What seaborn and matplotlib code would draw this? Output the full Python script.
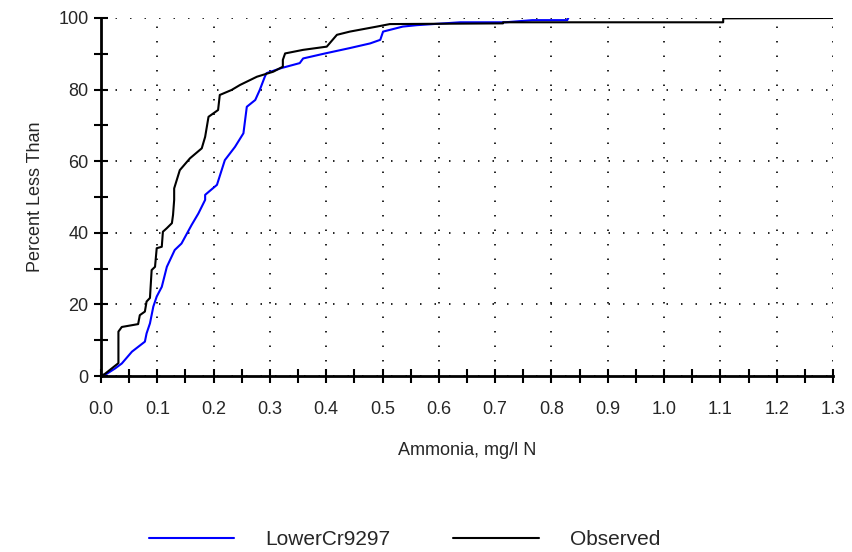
import matplotlib
matplotlib.use("Agg")
import matplotlib.pyplot as plt
import seaborn as sns
import pandas as pd
from matplotlib.ticker import MultipleLocator

# Observed CDF (Ammonia, mg/l N vs percent less than)
obs_x = [0.0, 0.007, 0.031, 0.031, 0.037, 0.066, 0.069, 0.078, 0.081, 0.087, 0.090,
         0.096, 0.099, 0.108, 0.110, 0.117, 0.126, 0.128, 0.130, 0.130, 0.140,
         0.158, 0.179, 0.185, 0.191, 0.208, 0.211, 0.232, 0.247, 0.277, 0.306, 0.323,
         0.323, 0.327, 0.359, 0.401, 0.419, 0.442, 0.490, 0.513, 0.714, 0.714, 1.105,
         1.105, 1.300]
obs_y = [0.0, 0.6, 3.6, 12.4, 13.7, 14.5, 17.0, 18.0, 20.8, 21.8, 29.6,
         30.5, 35.7, 36.1, 40.3, 41.3, 42.7, 45.0, 49.2, 52.4, 57.5,
         60.8, 63.6, 66.8, 72.4, 74.3, 78.5, 79.9, 81.3, 83.6, 85.0, 86.4,
         88.3, 90.1, 91.1, 92.0, 95.3, 96.2, 97.6, 98.3, 98.5, 98.8, 98.8,
         99.9, 100.0]

# Model CDF (LowerCr9297)
mod_x = [0.0, 0.010, 0.025, 0.037, 0.055, 0.078, 0.081, 0.087, 0.093, 0.099, 0.108,
         0.117, 0.131, 0.143, 0.161, 0.173, 0.185, 0.185, 0.206, 0.220, 0.238, 0.253,
         0.259, 0.274, 0.282, 0.291, 0.294, 0.320, 0.353, 0.359, 0.398, 0.442, 0.478,
         0.496, 0.501, 0.536, 0.561, 0.638, 0.718, 0.766, 0.828, 0.830]
mod_y = [0.0, 0.6, 2.1, 3.5, 6.8, 9.6, 11.9, 14.7, 19.4, 22.2, 24.9,
         30.5, 35.2, 37.0, 42.2, 45.4, 49.2, 50.6, 53.4, 60.3, 64.0, 67.8,
         75.2, 77.1, 79.9, 83.6, 84.6, 86.0, 87.4, 88.7, 90.1, 91.6, 92.9,
         93.9, 96.2, 97.6, 98.0, 98.8, 98.8, 99.4, 99.4, 100.0]

x_ticks = [round(0.1 * i, 1) for i in range(14)]
y_ticks = [0, 20, 40, 60, 80, 100]

sns.set_style("white")
plt.rcParams['font.family'] = ['Liberation Sans', 'DejaVu Sans']

fig = plt.figure(figsize=(8.52, 5.52), dpi=100)
ax = fig.add_axes([0.1185, 0.3188, 0.8592, 0.6486])

mod_df = pd.DataFrame({"x": mod_x, "y": mod_y})
obs_df = pd.DataFrame({"x": obs_x, "y": obs_y})
sns.lineplot(data=mod_df, x="x", y="y", sort=False, estimator=None, color="#0000ff",
             lw=1.5, ax=ax, label="LowerCr9297", zorder=3)
sns.lineplot(data=obs_df, x="x", y="y", sort=False, estimator=None, color="#000000",
             lw=1.5, ax=ax, label="Observed", zorder=4)

ax.set_xlim(0, 1.3)
ax.set_ylim(0, 100)
ax.set_xticks(x_ticks)
ax.set_xticklabels([f"{v:.1f}" for v in x_ticks])
ax.set_yticks(y_ticks)
ax.set_yticklabels([str(v) for v in y_ticks])
ax.xaxis.set_minor_locator(MultipleLocator(0.05))
ax.yaxis.set_minor_locator(MultipleLocator(10))

ax.grid(True, which="major", color="black", linestyle=(0, (0.9, 7.8)), linewidth=1.2)
ax.set_axisbelow(True)
for s in ["top", "right"]:
    ax.spines[s].set_visible(False)
for s in ["left", "bottom"]:
    ax.spines[s].set_color("black")
    ax.spines[s].set_linewidth(2)
ax.spines["left"].set_zorder(5)
ax.spines["bottom"].set_zorder(5)

ax.tick_params(which="both", direction="inout", length=10, width=1.5, color="black",
               labelsize=13, bottom=True, left=True, top=False, right=False)
ax.tick_params(axis="x", pad=13)
ax.tick_params(axis="y", pad=4)

ax.set_xlabel("Ammonia, mg/l N", fontsize=13, labelpad=17)
ax.set_ylabel("Percent Less Than", fontsize=13, labelpad=10)

ax.get_legend().remove()
handles, labels = ax.get_legend_handles_labels()
fig.legend(handles, labels, loc="center", bbox_to_anchor=(0.475, 0.022), ncol=2,
           frameon=False, fontsize=15, handlelength=4.1, handletextpad=1.5,
           columnspacing=3.0)

fig.savefig("out.png", dpi=100)
